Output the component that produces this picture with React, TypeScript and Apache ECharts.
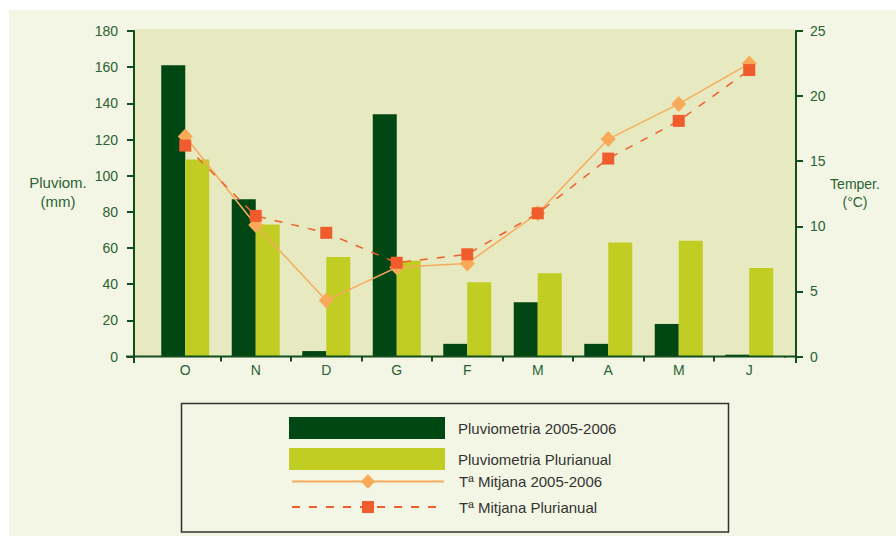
import React, { useEffect, useRef } from "react";
import * as echarts from "echarts";

const categories = ["O", "N", "D", "G", "F", "M", "A", "M", "J"];
const rain2005 = [161, 87, 3, 134, 7, 30, 7, 18, 1];
const rainPluri = [109, 73, 55, 53, 41, 46, 63, 64, 49];
const temp2005 = [16.9, 10.1, 4.3, 6.85, 7.15, 11.0, 16.7, 19.4, 22.5];
const tempPluri = [16.2, 10.8, 9.5, 7.2, 7.85, 11.0, 15.2, 18.1, 22.0];
const seriesNames = [
  "Pluviometria 2005-2006",
  "Pluviometria Plurianual",
  "Tª Mitjana 2005-2006",
  "Tª Mitjana Plurianual",
];
const leftAxisName = "Pluviom.\n(mm)";
const rightAxisName = "Temper.\n(°C)";

const FONT = "'Liberation Sans', Arial, sans-serif";
const AXIS = "#124d1c";
const LABEL = "#2b6235";
const OUTER_BG = "#f3f6e4";

export default function App() {
  const ref = useRef<HTMLDivElement>(null);
  useEffect(() => {
    if (!ref.current) return;
    const chart = echarts.init(ref.current, null, { renderer: "svg" });
    const legendText = { fontSize: 15, color: "#333333", fontFamily: FONT, padding: [0, 0, 0, 8] };
    chart.setOption({
      animation: false,
      backgroundColor: "#ffffff",
      textStyle: { fontFamily: FONT },
      grid: { left: 150, right: 111.5, top: 31, bottom: 179.5, containLabel: false },
      graphic: [
        { type: "rect", z: -10, silent: true, shape: { x: 9, y: 10, width: 887, height: 526 }, style: { fill: OUTER_BG } },
        { type: "rect", z: -9, silent: true, shape: { x: 134, y: 29, width: 662, height: 328 }, style: { fill: "#e7eac0" } },
        { type: "rect", z: 20, silent: true, shape: { x: 781, y: 357.6, width: 7, height: 7 }, style: { fill: OUTER_BG } },
        { type: "line", z: 30, silent: true, shape: { x1: 126, y1: 356.5, x2: 797, y2: 356.5 }, style: { stroke: AXIS, lineWidth: 2 } },
        { type: "line", z: 30, silent: true, shape: { x1: 134, y1: 356, x2: 134, y2: 363 }, style: { stroke: AXIS, lineWidth: 2 } },
        { type: "line", z: 30, silent: true, shape: { x1: 796, y1: 356, x2: 796, y2: 363 }, style: { stroke: AXIS, lineWidth: 2 } },
        { type: "rect", z: -5, silent: true, shape: { x: 181.5, y: 403.5, width: 547, height: 128.5 }, style: { fill: OUTER_BG, stroke: "#333333", lineWidth: 1.5 } },
        { type: "text", style: { x: 58, y: 192, text: leftAxisName, fill: LABEL, font: "15px " + FONT, textAlign: "center", textVerticalAlign: "middle", lineHeight: 19 } },
        { type: "text", style: { x: 855, y: 193, text: rightAxisName, fill: LABEL, font: "14px " + FONT, textAlign: "center", textVerticalAlign: "middle", lineHeight: 18 } },
      ],
      legend: [
        { data: [seriesNames[0]], icon: "rect", left: 289, top: 417, itemWidth: 156, itemHeight: 22, padding: 0, selectedMode: false, textStyle: legendText },
        { data: [seriesNames[1]], icon: "rect", left: 289, top: 448, itemWidth: 156, itemHeight: 22, padding: 0, selectedMode: false, textStyle: legendText },
        { data: [seriesNames[2]], left: 291, top: 474, itemWidth: 152, itemHeight: 18, padding: 0, selectedMode: false, textStyle: { ...legendText, padding: [0, 0, 0, 10] } },
        { data: [seriesNames[3]], left: 291, top: 499.5, itemWidth: 152, itemHeight: 15, padding: 0, selectedMode: false, textStyle: { ...legendText, padding: [0, 0, 0, 10] } },
      ],
      xAxis: {
        type: "category",
        data: categories,
        boundaryGap: true,
        axisLine: { show: false },
        axisTick: { show: true, length: 5, interval: (i: number) => i > 0, lineStyle: { color: AXIS, width: 2 } },
        axisLabel: { fontSize: 14, color: LABEL, margin: 6, fontFamily: FONT },
        splitLine: { show: false },
      },
      yAxis: [
        {
          type: "value",
          min: 0,
          max: 180,
          interval: 20,
          position: "left",
          offset: 16,
          axisLine: { show: true, lineStyle: { color: AXIS, width: 2 } },
          axisTick: { show: true, length: 7, lineStyle: { color: AXIS, width: 2 } },
          axisLabel: { fontSize: 14, color: LABEL, margin: 16, fontFamily: FONT },
          splitLine: { show: false },
        },
        {
          type: "value",
          min: 0,
          max: 25,
          interval: 5,
          position: "right",
          offset: 11.5,
          axisLine: { show: true, lineStyle: { color: AXIS, width: 2 } },
          axisTick: { show: true, length: 7, lineStyle: { color: AXIS, width: 2 } },
          axisLabel: { fontSize: 14, color: LABEL, margin: 14, fontFamily: FONT },
          splitLine: { show: false },
        },
      ],
      series: [
        {
          name: seriesNames[0],
          type: "bar",
          data: rain2005,
          barWidth: 24,
          barGap: "0%",
          itemStyle: { color: "#004713" },
        },
        {
          name: seriesNames[1],
          type: "bar",
          data: rainPluri,
          barWidth: 24,
          barGap: "0%",
          itemStyle: { color: "#c1cd22" },
        },
        {
          name: seriesNames[2],
          type: "line",
          yAxisIndex: 1,
          data: temp2005,
          symbol: "diamond",
          symbolSize: [15, 16],
          lineStyle: { color: "#f7ab5e", width: 1.5 },
          itemStyle: { color: "#f9aa58" },
          z: 3,
        },
        {
          name: seriesNames[3],
          type: "line",
          yAxisIndex: 1,
          data: tempPluri,
          symbol: "rect",
          symbolSize: 12,
          lineStyle: { color: "#ef5e2e", width: 1.5, type: [8, 9] },
          itemStyle: { color: "#f15c2f" },
          z: 4,
        },
      ],
    });
    return () => chart.dispose();
  }, []);
  return <div ref={ref} style={{ position: "fixed", left: 0, top: 0, width: 896, height: 536 }} />;
}
